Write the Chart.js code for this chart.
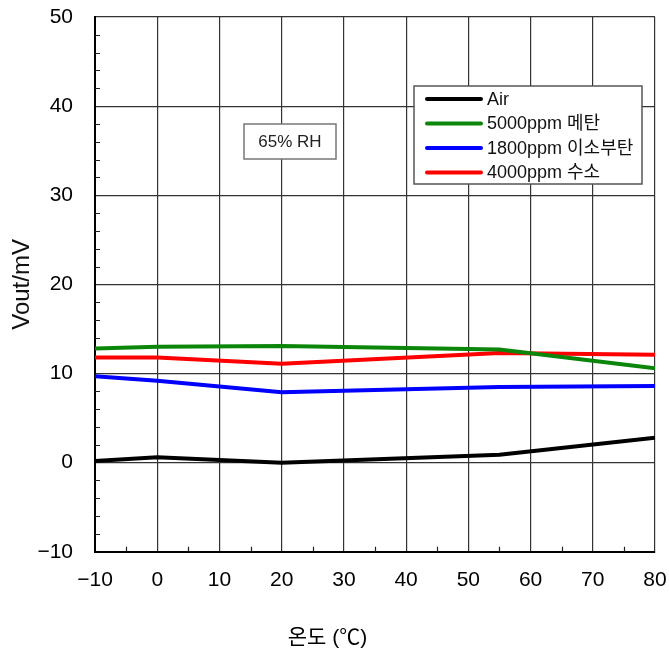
<!DOCTYPE html>
<html>
<head>
<meta charset="utf-8">
<script src="https://cdn.jsdelivr.net/npm/chart.js@4/dist/chart.umd.min.js"></script>
<style>
  html, body { margin: 0; padding: 0; background: #fff; }
  #wrap { width: 669px; height: 652px; }
</style>
</head>
<body>
<div id="wrap"><canvas id="myChart"></canvas></div>
<script>
// temperatures where the curves have points (°C)
const temps = [-10, 0, 20, 55, 80]
// Vout in mV
const air = [0.2, 0.6, 0.0, 0.9, 2.8]
const methane = [12.8, 13.0, 13.1, 12.7, 10.6]
const isobutane = [9.7, 9.2, 7.9, 8.5, 8.6]
const hydrogen = [11.8, 11.8, 11.1, 12.3, 12.1]

const seriesNames = ["Air", "5000ppm 메탄", "1800ppm 이소부탄", "4000ppm 수소"]
const seriesColors = ["#000000", "#0b860b", "#0000ff", "#ff0000"]
const xTicks = [-10, 0, 10, 20, 30, 40, 50, 60, 70, 80]
const yTicks = [-10, 0, 10, 20, 30, 40, 50]

const FONT = "'Liberation Sans', Arial, 'Noto Sans CJK KR', sans-serif"

function pts(values) {
    return temps.map((t, i) => ({ x: t, y: values[i] }))
}
function minus(v) {
    return String(v).replace('-', '\u2212')
}

// small inside ticks on left and bottom axis
const minorTicks = {
    id: 'minorTicks',
    beforeDatasetsDraw(chart) {
        const ctx = chart.ctx
        const a = chart.chartArea
        const xs = chart.scales.x, ys = chart.scales.y
        ctx.save()
        ctx.strokeStyle = '#222'
        ctx.lineWidth = 1.2
        ctx.beginPath()
        for (let v = -8; v < 50; v += 2) {
            if (v % 10 === 0) continue
            const y = Math.round(ys.getPixelForValue(v)) + 0.5
            ctx.moveTo(a.left, y)
            ctx.lineTo(a.left + 5, y)
        }
        for (let v = -5; v < 80; v += 10) {
            const x = Math.round(xs.getPixelForValue(v)) + 0.5
            ctx.moveTo(x, a.bottom)
            ctx.lineTo(x, a.bottom - 5)
        }
        ctx.stroke()
        ctx.restore()
    }
}

// legend box and "65% RH" note inside the plot
const boxes = {
    id: 'boxes',
    afterDraw(chart) {
        const ctx = chart.ctx
        ctx.save()
        // note box
        ctx.fillStyle = '#fff'
        ctx.strokeStyle = '#777'
        ctx.lineWidth = 1.5
        ctx.fillRect(244, 124, 92, 35)
        ctx.strokeRect(244, 124, 92, 35)
        ctx.fillStyle = '#222'
        ctx.font = "17px " + FONT
        ctx.textAlign = 'center'
        ctx.textBaseline = 'middle'
        ctx.fillText('65% RH', 290, 142)

        // legend
        ctx.fillStyle = '#fff'
        ctx.strokeStyle = '#555'
        ctx.fillRect(414, 86, 228, 98)
        ctx.strokeRect(414, 86, 228, 98)
        ctx.textAlign = 'left'
        ctx.font = "18px " + FONT
        chart.data.datasets.forEach((ds, i) => {
            const y = 99 + i * 24.5
            ctx.strokeStyle = ds.borderColor
            ctx.lineWidth = 4
            ctx.lineCap = 'round'
            ctx.beginPath()
            ctx.moveTo(427, y)
            ctx.lineTo(481, y)
            ctx.stroke()
            ctx.fillStyle = '#111'
            ctx.fillText(ds.label, 487, y + 1)
        })
        ctx.restore()
    }
}

new Chart("myChart", {
    type: "line",
    data: {
        datasets: [
            { label: seriesNames[0], data: pts(air), borderColor: seriesColors[0] },
            { label: seriesNames[1], data: pts(methane), borderColor: seriesColors[1] },
            { label: seriesNames[2], data: pts(isobutane), borderColor: seriesColors[2] },
            { label: seriesNames[3], data: pts(hydrogen), borderColor: seriesColors[3] }
        ]
    },
    options: {
        responsive: true,
        maintainAspectRatio: false,
        animation: false,
        layout: { padding: { left: 0, right: 14, top: 17, bottom: 0 } },
        elements: {
            line: { borderWidth: 4, tension: 0, fill: false },
            point: { radius: 0, hoverRadius: 0 }
        },
        plugins: {
            legend: { display: false },
            tooltip: { enabled: false },
            title: {
                display: true,
                position: 'bottom',
                text: '온도 (℃)',
                color: '#000',
                font: { family: FONT, size: 21, weight: 'normal' },
                padding: { top: 0, bottom: 1 }
            }
        },
        scales: {
            x: {
                type: 'linear',
                min: -10,
                max: 80,
                afterBuildTicks: s => { s.ticks = xTicks.map(v => ({ value: v })) },
                afterFit: s => {
                    s.height = 74
                    s.paddingLeft = 0
                    s.paddingRight = 0
                },
                grid: { color: '#333', lineWidth: 1.2, drawTicks: false },
                border: { color: '#000', width: 2 },
                ticks: {
                    padding: 16,
                    color: '#000',
                    font: { family: FONT, size: 21 },
                    callback: minus
                }
            },
            y: {
                min: -10,
                max: 50,
                afterBuildTicks: s => { s.ticks = yTicks.map(v => ({ value: v })) },
                afterFit: s => {
                    s.width = 95
                    s.paddingTop = 0
                    s.paddingBottom = 0
                },
                grid: { color: '#333', lineWidth: 1.2, drawTicks: false },
                border: { color: '#000', width: 2 },
                ticks: {
                    padding: 22,
                    color: '#000',
                    font: { family: FONT, size: 21 },
                    callback: minus
                },
                title: {
                    display: true,
                    text: 'Vout/mV',
                    color: '#111',
                    font: { family: FONT, size: 24 },
                    padding: { top: 8, bottom: 0 }
                }
            }
        }
    },
    plugins: [minorTicks, boxes]
});
</script>
</body>
</html>
